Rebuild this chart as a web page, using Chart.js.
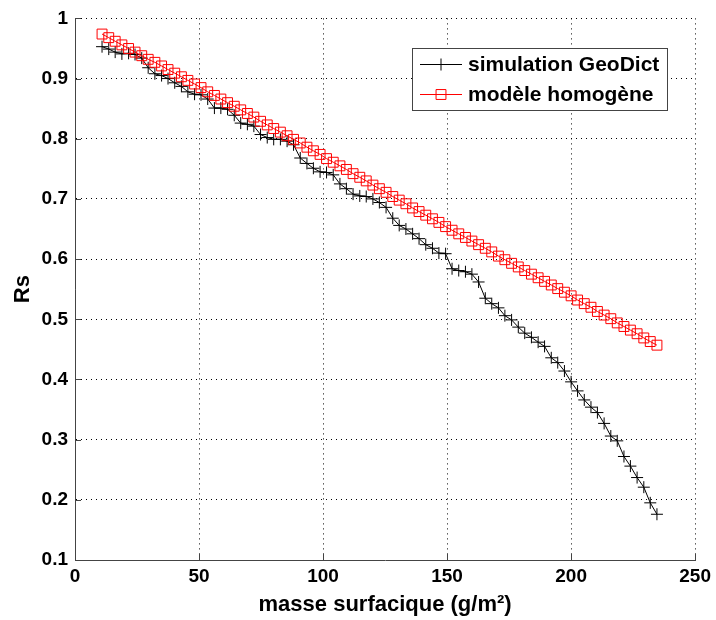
<!DOCTYPE html>
<html>
<head>
<meta charset="utf-8">
<title>Rs vs masse surfacique</title>
<script src="https://cdn.jsdelivr.net/npm/chart.js@4.4.1/dist/chart.umd.min.js"></script>
<style>
  html, body { margin: 0; padding: 0; background: #fff; }
  #chart { display: block; }
</style>
</head>
<body>
<canvas id="chart" width="716" height="620"></canvas>
<script>
// masse surfacique (g/m2), shared by both curves
const masse = [
    10.9, 13.6, 16.2, 18.9, 21.6, 24.2, 26.9, 29.5, 32.2, 34.9,
    37.5, 40.2, 42.9, 45.5, 48.2, 50.8, 53.5, 56.2, 58.8, 61.5,
    64.2, 66.8, 69.5, 72.1, 74.8, 77.5, 80.1, 82.8, 85.5, 88.1,
    90.8, 93.5, 96.1, 98.8, 101.4, 104.1, 106.8, 109.4, 112.1, 114.8,
    117.4, 120.1, 122.7, 125.4, 128.1, 130.7, 133.4, 136.1, 138.7, 141.4,
    144.1, 146.7, 149.4, 152.0, 154.7, 157.4, 160.0, 162.7, 165.4, 168.0,
    170.7, 173.3, 176.0, 178.7, 181.3, 184.0, 186.7, 189.3, 192.0, 194.6,
    197.3, 200.0, 202.6, 205.3, 208.0, 210.6, 213.3, 216.0, 218.6, 221.3,
    223.9, 226.6, 229.3, 231.9, 234.6
];

// Rs from the GeoDict simulation
const rsGeoDict = [
    0.953, 0.949, 0.944, 0.941, 0.942, 0.940, 0.934, 0.918, 0.908, 0.905,
    0.900, 0.893, 0.887, 0.878, 0.874, 0.873, 0.866, 0.851, 0.851, 0.849,
    0.839, 0.826, 0.824, 0.821, 0.807, 0.802, 0.799, 0.799, 0.796, 0.790,
    0.768, 0.759, 0.751, 0.745, 0.744, 0.740, 0.725, 0.717, 0.708, 0.705,
    0.704, 0.700, 0.694, 0.686, 0.668, 0.656, 0.650, 0.642, 0.634, 0.624,
    0.618, 0.610, 0.609, 0.584, 0.581, 0.579, 0.575, 0.562, 0.535, 0.526,
    0.519, 0.506, 0.499, 0.487, 0.477, 0.470, 0.462, 0.455, 0.436, 0.428,
    0.414, 0.396, 0.381, 0.366, 0.354, 0.345, 0.327, 0.306, 0.298, 0.272,
    0.256, 0.237, 0.221, 0.195, 0.176
];

// Rs from the homogeneous model
const rsModele = [
    0.974, 0.968, 0.962, 0.956, 0.950, 0.944, 0.938, 0.932, 0.927, 0.921,
    0.915, 0.909, 0.903, 0.897, 0.891, 0.885, 0.878, 0.872, 0.866, 0.860,
    0.854, 0.848, 0.842, 0.836, 0.829, 0.823, 0.817, 0.811, 0.805, 0.799,
    0.793, 0.786, 0.780, 0.774, 0.767, 0.761, 0.755, 0.749, 0.742, 0.736,
    0.730, 0.723, 0.717, 0.711, 0.704, 0.698, 0.692, 0.685, 0.679, 0.673,
    0.667, 0.661, 0.654, 0.648, 0.642, 0.636, 0.630, 0.624, 0.618, 0.612,
    0.605, 0.599, 0.593, 0.587, 0.581, 0.575, 0.569, 0.563, 0.557, 0.551,
    0.545, 0.539, 0.532, 0.526, 0.520, 0.513, 0.507, 0.501, 0.494, 0.488,
    0.482, 0.476, 0.469, 0.463, 0.457
];

const seriesNames = ['simulation GeoDict', 'modèle homogène'];
const xTitle = 'masse surfacique (g/m²)';
const yTitle = 'Rs';

const tickFont = { family: "'Liberation Sans', Arial, sans-serif", size: 19, weight: 'bold' };
const titleFont = { family: "'Liberation Sans', Arial, sans-serif", size: 22, weight: 'bold' };
const legendFont = "bold 21px 'Liberation Sans', Arial, sans-serif";

const toPoints = ys => masse.map((x, i) => ({ x: x, y: ys[i] }));

// inward tick marks like the original figure
const innerTicks = {
    id: 'innerTicks',
    afterDraw(chart) {
        const { ctx, chartArea: a, scales: { x, y } } = chart;
        ctx.save();
        ctx.strokeStyle = '#444';
        ctx.lineWidth = 1;
        ctx.beginPath();
        x.ticks.forEach(t => {
            const px = Math.round(x.getPixelForValue(t.value)) + 0.5;
            ctx.moveTo(px, a.bottom);
            ctx.lineTo(px, a.bottom - 6);
        });
        y.ticks.forEach(t => {
            const py = Math.round(y.getPixelForValue(t.value)) + 0.5;
            ctx.moveTo(a.left, py);
            ctx.lineTo(a.left + 6, py);
        });
        ctx.stroke();
        ctx.restore();
    }
};

// boxed legend inside the axes, top right
const boxLegend = {
    id: 'boxLegend',
    afterDraw(chart) {
        const ctx = chart.ctx;
        const bx = 412, by = 48, bw = 255, bh = 62;
        ctx.save();
        ctx.fillStyle = '#fff';
        ctx.fillRect(bx, by, bw, bh);
        ctx.strokeStyle = '#444';
        ctx.lineWidth = 1;
        ctx.strokeRect(bx + 0.5, by + 0.5, bw, bh);
        ctx.font = legendFont;
        ctx.textBaseline = 'middle';
        chart.data.datasets.forEach((ds, i) => {
            const ry = by + 16 + i * 30;
            ctx.strokeStyle = ds.borderColor;
            ctx.lineWidth = 1;
            ctx.beginPath();
            ctx.moveTo(bx + 8, ry + 0.5);
            ctx.lineTo(bx + 50, ry + 0.5);
            ctx.stroke();
            ctx.fillStyle = ds.backgroundColor;
            Chart.helpers.drawPoint(ctx, {
                pointStyle: ds.pointStyle,
                radius: ds.pointRadius,
                borderWidth: 1
            }, bx + 29, ry + 0.5);
            ctx.fillStyle = '#000';
            ctx.fillText(ds.label, bx + 56, ry + 1);
        });
        ctx.restore();
    }
};

new Chart(document.getElementById('chart'), {
    type: 'line',
    data: {
        datasets: [
            {
                label: seriesNames[0],
                data: toPoints(rsGeoDict),
                borderColor: '#000',
                backgroundColor: '#000',
                borderWidth: 1,
                pointStyle: 'cross',
                pointRadius: 6,
                pointBorderWidth: 1,
                tension: 0,
                order: 2
            },
            {
                label: seriesNames[1],
                data: toPoints(rsModele),
                borderColor: '#ff0000',
                backgroundColor: 'rgba(0,0,0,0)',
                borderWidth: 1,
                pointStyle: 'rect',
                pointRadius: 7,
                pointBorderWidth: 1,
                tension: 0,
                order: 1
            }
        ]
    },
    options: {
        responsive: false,
        animation: false,
        devicePixelRatio: 1,
        layout: { padding: { top: 15, right: 19, left: 0, bottom: 0 } },
        plugins: {
            legend: { display: false },
            tooltip: { enabled: false }
        },
        scales: {
            x: {
                type: 'linear',
                min: 0,
                max: 250,
                ticks: {
                    stepSize: 50,
                    color: '#000',
                    font: tickFont,
                    padding: 5,
                    maxRotation: 0
                },
                grid: { color: '#000', lineWidth: 1, drawTicks: false },
                border: { display: true, color: '#444', width: 1, dash: [1, 4] },
                title: { display: true, text: xTitle, color: '#000', font: titleFont, padding: { top: 0, bottom: 2 } },
                afterFit: s => { s.height = 60; }
            },
            y: {
                type: 'linear',
                min: 0.1,
                max: 1,
                ticks: {
                    stepSize: 0.1,
                    color: '#000',
                    font: tickFont,
                    padding: 7,
                    callback: v => String(+v.toFixed(1))
                },
                grid: { color: '#000', lineWidth: 1, drawTicks: false },
                border: { display: true, color: '#444', width: 1, dash: [1, 4] },
                title: { display: true, text: yTitle, color: '#000', font: titleFont, padding: { top: 10, bottom: 0 } },
                afterFit: s => { s.width = 75; }
            }
        }
    },
    plugins: [innerTicks, boxLegend]
});
</script>
</body>
</html>
